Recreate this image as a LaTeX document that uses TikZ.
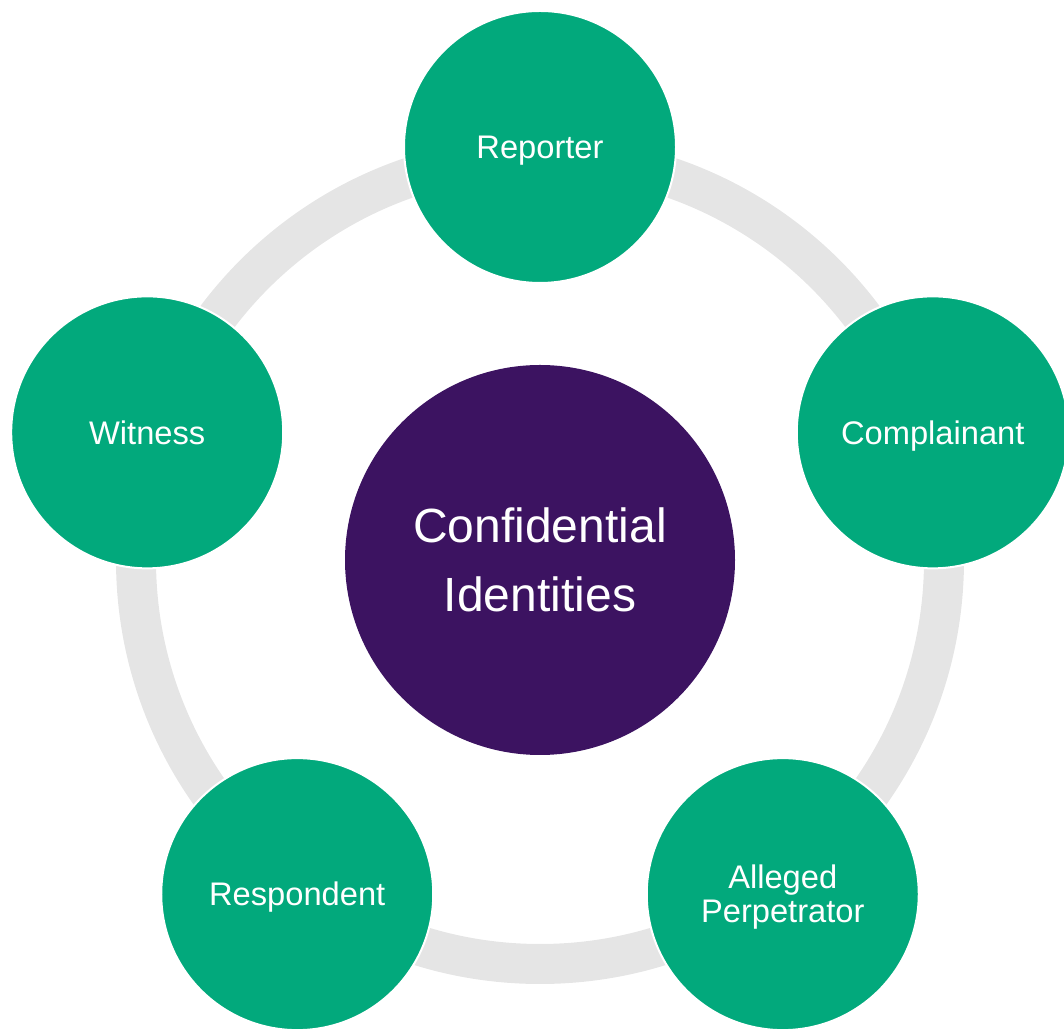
\documentclass[tikz,border=0pt]{standalone}
\usepackage{fontspec}
\setsansfont{Liberation Sans}
\usetikzlibrary{calc}
\definecolor{leaf}{HTML}{02A97C}
\definecolor{plum}{HTML}{3C1361}
\definecolor{rim}{HTML}{E5E5E5}
\tikzset{
  hub/.style={circle,fill=plum,draw=none,text=white,align=center,minimum size=292.5pt,inner sep=0pt,font=\sffamily\fontsize{36}{52}\selectfont},
  role/.style={circle,fill=leaf,draw=white,line width=1.5pt,text=white,align=center,minimum size=204pt,inner sep=0pt,text depth=0pt,font=\sffamily\fontsize{24.5}{25.5}\selectfont},
  ring/.style={circle,draw=rim,line width=30pt,minimum size=606pt,inner sep=0pt}
}
\begin{document}
\begin{tikzpicture}[x=0.75pt,y=0.75pt]
\useasboundingbox (0,0) rectangle (1064,1031);
\node[ring] (ring) at (540,471) {};
\node[hub] (centre) at (540,471) {Confidential\\Identities};
\node[role] (reporter) at ($(centre)+(90:413)$) {Reporter};
\node[role] (complainant) at ($(centre)+(18:413)$) {Complainant};
\node[role] (alleged) at ($(centre)+(-54:413)$) {Alleged\\Perpetrator};
\node[role] (respondent) at ($(centre)+(-126:413)$) {Respondent};
\node[role] (witness) at ($(centre)+(162:413)$) {Witness};
\end{tikzpicture}
\end{document}
